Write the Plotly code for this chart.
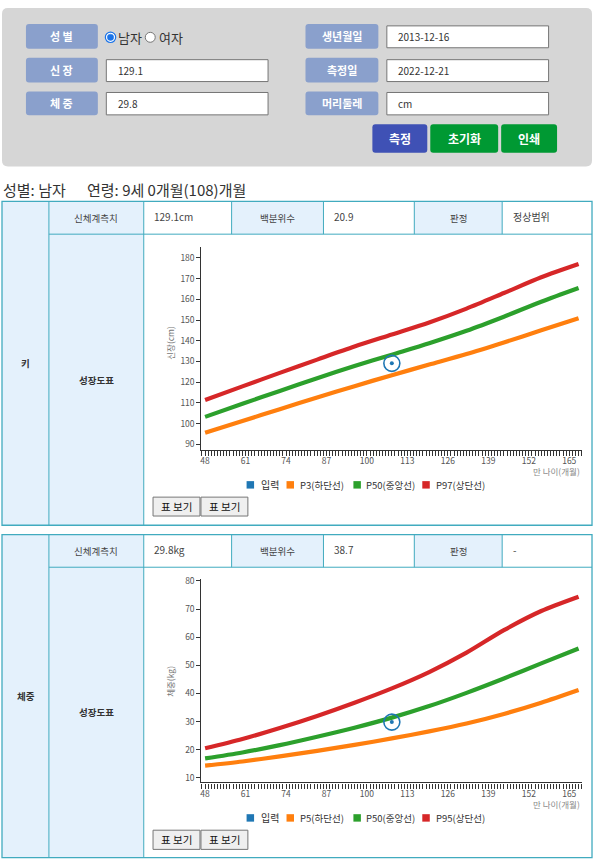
import plotly.graph_objects as go

W, H = 596, 863


def X(px):
    return px / W


def Y(py):
    return 1 - py / H


FONT = "Noto Sans CJK KR, Noto Sans, sans-serif"

# ---------------- data ----------------
months = [48, 60, 72, 84, 96, 108, 120, 132, 144, 156, 168]
height_p3 = [95.6, 101.3, 107.0, 112.6, 118.1, 123.4, 128.5, 133.6, 139.2, 145.0, 150.9]
height_p50 = [103.3, 109.6, 115.8, 121.9, 127.8, 133.3, 138.8, 144.8, 151.6, 158.8, 165.4]
height_p97 = [111.4, 118.0, 124.5, 130.9, 137.2, 143.0, 148.8, 155.5, 163.0, 170.6, 177.0]

weight_p5 = [14.3, 15.8, 17.6, 19.6, 21.7, 24.0, 26.5, 29.3, 32.7, 36.7, 41.2]
weight_p50 = [16.9, 19.0, 21.6, 24.6, 27.8, 31.4, 35.5, 40.2, 45.3, 50.7, 56.0]
weight_p95 = [20.5, 23.8, 27.7, 32.0, 36.7, 41.8, 47.6, 54.5, 62.5, 69.3, 74.4]

input_age = [108]
input_height = [129.1]
input_weight = [29.8]

height_legend = ["입력", "P3(하단선)", "P50(중앙선)", "P97(상단선)"]
weight_legend = ["입력", "P5(하단선)", "P50(중앙선)", "P95(상단선)"]

form_labels_left = ["성 별", "신 장", "체 중"]
form_labels_right = ["생년월일", "측정일", "머리둘레"]
form_values_left = ["129.1", "29.8"]
form_values_right = ["2013-12-16", "2022-12-21", "cm"]
buttons = ["측정", "초기화", "인쇄"]

C_BLUE = "#1f77b4"
C_ORANGE = "#ff7f0e"
C_GREEN = "#2ca02c"
C_RED = "#d62728"

TEAL = "#41abbf"
LIGHT = "#e4f1fc"

shapes = []
annotations = []


def rect(x0, y0, x1, y1, fill=None, line=None, lw=1):
    shapes.append(dict(type="rect", xref="paper", yref="paper",
                       x0=X(x0), x1=X(x1), y0=Y(y1), y1=Y(y0),
                       fillcolor=fill or "rgba(0,0,0,0)",
                       line=dict(color=line or "rgba(0,0,0,0)", width=lw if line else 0),
                       layer="below"))


def rrect(x0, y0, x1, y1, r, fill, line=None, lw=0):
    def p(a, b):
        return f"{X(a):.5f},{Y(b):.5f}"
    path = (f"M {p(x0 + r, y0)} L {p(x1 - r, y0)} Q {p(x1, y0)} {p(x1, y0 + r)} "
            f"L {p(x1, y1 - r)} Q {p(x1, y1)} {p(x1 - r, y1)} L {p(x0 + r, y1)} "
            f"Q {p(x0, y1)} {p(x0, y1 - r)} L {p(x0, y0 + r)} Q {p(x0, y0)} {p(x0 + r, y0)} Z")
    shapes.append(dict(type="path", xref="paper", yref="paper", path=path,
                       fillcolor=fill,
                       line=dict(color=line or "rgba(0,0,0,0)", width=lw),
                       layer="below"))


def hline(x0, x1, y, color=TEAL, w=1):
    shapes.append(dict(type="line", xref="paper", yref="paper",
                       x0=X(x0), x1=X(x1), y0=Y(y), y1=Y(y),
                       line=dict(color=color, width=w), layer="below"))


def vline(x, y0, y1, color=TEAL, w=1):
    shapes.append(dict(type="line", xref="paper", yref="paper",
                       x0=X(x), x1=X(x), y0=Y(y0), y1=Y(y1),
                       line=dict(color=color, width=w), layer="below"))


def circle(cx, cy, r, fill, line, lw=1):
    shapes.append(dict(type="circle", xref="paper", yref="paper",
                       x0=X(cx - r), x1=X(cx + r), y0=Y(cy + r), y1=Y(cy - r),
                       fillcolor=fill, line=dict(color=line, width=lw), layer="above"))


def ann(text, x, y, size=10, color="#333", xanchor="left", bold=False, angle=0):
    if bold:
        text = f"<b>{text}</b>"
    annotations.append(dict(text=text, x=X(x), y=Y(y), xref="paper", yref="paper",
                            showarrow=False, xanchor=xanchor, yanchor="middle",
                            textangle=angle,
                            font=dict(family=FONT, size=size, color=color)))


# ---------------- top form panel ----------------
rrect(1, 3, 592, 162.5, 6, "#d6d6d6")

label_rows = [(19, 44), (53, 78), (87, 111)]
input_rows = [(21, 43), (55, 77), (88, 110.5)]
for i, (a, b) in enumerate(label_rows):
    rrect(25, a, 97, b, 3, "#8aa0cc")
    ann(form_labels_left[i], 61, (a + b) / 2, 11, "white", "center", True)
    rrect(305, a, 378, b, 3, "#8aa0cc")
    ann(form_labels_right[i], 341.5, (a + b) / 2, 11, "white", "center", True)

for i, (a, b) in enumerate(input_rows[1:]):
    rect(105.5, a, 267.5, b, "white", "#767676", 1)
    ann(form_values_left[i], 115, (a + b) / 2, 10, "#333")
for i, (a, b) in enumerate(input_rows):
    rect(386.5, a, 548.5, b, "white", "#767676", 1)
    ann(form_values_right[i], 395.5, (a + b) / 2, 10, "#333")

# radio buttons
circle(109.7, 32.5, 5.2, "white", "#1a73e8", 1.2)
circle(109.7, 32.5, 3.2, "#1a73e8", "#1a73e8", 0.5)
ann("남자", 115, 33, 13, "#333")
circle(149.5, 32.5, 5.0, "white", "#767676", 1)
ann("여자", 156, 33, 13, "#333")

btn_pos = [(372, 427, "#3f51b5"), (430, 498, "#009933"), (501, 557, "#009933")]
for (a, b, c), t in zip(btn_pos, buttons):
    rrect(a, 120, b, 148.5, 3, c)
    ann(t, (a + b) / 2, 134.5, 12, "white", "center", True)

# ---------------- title ----------------
ann("성별: 남자", 0, 185.5, 15, "#333")
ann("연령: 9세 0개월(108)개월", 84, 185.5, 15, "#333")

# ---------------- tables ----------------
col_x = [1, 48, 143, 231, 323, 414, 502, 592]


def table(top, mid, bottom, name, meas, pct, judge):
    rect(col_x[0], top, col_x[2], bottom, LIGHT)
    rect(col_x[3], top, col_x[4], mid, LIGHT)
    rect(col_x[5], top, col_x[6], mid, LIGHT)
    rect(col_x[0], top, col_x[-1], bottom, None, TEAL, 1.3)
    hline(col_x[1], col_x[-1], mid)
    vline(col_x[1], top, bottom)
    vline(col_x[2], top, bottom)
    for cx in col_x[3:7]:
        vline(cx, top, mid)
    ym = (top + mid) / 2
    ann(name, 25, (top + bottom) / 2, 9.5, "#333", "center", True)
    ann("신체계측치", (col_x[1] + col_x[2]) / 2, ym, 9.5, "#444", "center")
    ann(meas, 151, ym - 1, 10, "#444")
    ann("백분위수", (col_x[3] + col_x[4]) / 2, ym, 9.5, "#444", "center")
    ann(pct, 332, ym - 1, 10, "#444")
    ann("판정", (col_x[5] + col_x[6]) / 2, ym, 9.5, "#444", "center")
    ann(judge, 511, ym - 1, 10, "#444")
    ann("성장도표", (col_x[1] + col_x[2]) / 2, (mid + bottom) / 2, 9.5, "#333", "center", True)


table(197.5, 230.5, 523.3, "키", "129.1cm", "20.9", "정상범위")
table(532.8, 565.5, 857.5, "체중", "29.8kg", "38.7", "-")


def legend(y, labels):
    items = [(246, 258, C_BLUE), (286, 297, C_ORANGE), (353, 364, C_GREEN), (422, 434, C_RED)]
    for (sx, tx, c), lab in zip(items, labels):
        rect(sx, y - 3.8, sx + 7.5, y + 3.7, c)
        ann(lab, tx, y, 10 if lab == "입력" else 9.5, "#333")


def view_buttons(y0, y1):
    for a, b in [(152.3, 199.3), (200.3, 247.3)]:
        rect(a, y0, b, y1, "#efefef", "#767676", 1)
        ann("표 보기", (a + b) / 2, (y0 + y1) / 2, 10.5, "#111", "center")


legend(482.7, height_legend)
view_buttons(495, 514)
legend(817.7, weight_legend)
view_buttons(830, 849.3)

ann("신장(cm)", 169, 340, 8.5, "#777", "center", angle=-90)
ann("만 나이(개월)", 582, 468.5, 8.5, "#888", "right")
ann("체중(kg)", 169, 680, 8.5, "#777", "center", angle=-90)
ann("만 나이(개월)", 582, 803.5, 8.5, "#888", "right")

# ---------------- charts ----------------
fig = go.Figure()


def add_chart(xa, ya, p_lo, p_mid, p_hi, inp):
    for vals, c in [(p_lo, C_ORANGE), (p_mid, C_GREEN), (p_hi, C_RED)]:
        fig.add_trace(go.Scatter(x=months, y=vals, mode="lines", xaxis=xa, yaxis=ya,
                                 line=dict(color=c, width=4.2, shape="spline", smoothing=0.8),
                                 showlegend=False, hoverinfo="skip"))
    fig.add_trace(go.Scatter(x=input_age, y=inp, mode="markers", xaxis=xa, yaxis=ya,
                             marker=dict(symbol="circle-open", size=16, color=C_BLUE,
                                         line=dict(width=1.6, color=C_BLUE)),
                             showlegend=False))
    fig.add_trace(go.Scatter(x=input_age, y=inp, mode="markers", xaxis=xa, yaxis=ya,
                             marker=dict(symbol="circle", size=4, color=C_BLUE),
                             showlegend=False))


add_chart("x", "y", height_p3, height_p50, height_p97, input_height)
add_chart("x2", "y2", weight_p5, weight_p50, weight_p95, input_weight)

common_x = dict(range=[46.8, 169.2], tickmode="linear", tick0=48, dtick=13,
                ticks="outside", ticklen=5, tickwidth=1, tickcolor="#333",
                ticklabelstandoff=-2,
                showline=True, linecolor="#333", linewidth=1.2,
                showgrid=False, zeroline=False,
                tickfont=dict(family=FONT, size=8.5, color="#555"),
                minor=dict(dtick=1, tick0=48, ticks="outside", ticklen=5,
                           tickwidth=1, tickcolor="#333", showgrid=False))
common_y = dict(tickmode="linear", tick0=0, dtick=10, ticks="outside", ticklen=4,
                tickwidth=1, tickcolor="#333", showline=True, linecolor="#333",
                linewidth=1.2, showgrid=False, zeroline=False,
                tickfont=dict(family=FONT, size=8.5, color="#555"))

fig.update_layout(
    width=W, height=H, margin=dict(l=0, r=0, t=0, b=0),
    paper_bgcolor="white", plot_bgcolor="rgba(0,0,0,0)",
    showlegend=False,
    font=dict(family=FONT),
    xaxis=dict(domain=[X(200.7), X(582.3)], anchor="y", **common_x),
    yaxis=dict(domain=[Y(447.3), Y(243)], anchor="x", range=[87.46, 185.4], **common_y),
    xaxis2=dict(domain=[X(200.7), X(582.3)], anchor="y2", **common_x),
    yaxis2=dict(domain=[Y(782), Y(577.3)], anchor="x2", range=[8.34, 80.7], **common_y),
    shapes=shapes,
    annotations=annotations,
)

fig.write_html("out.html")
